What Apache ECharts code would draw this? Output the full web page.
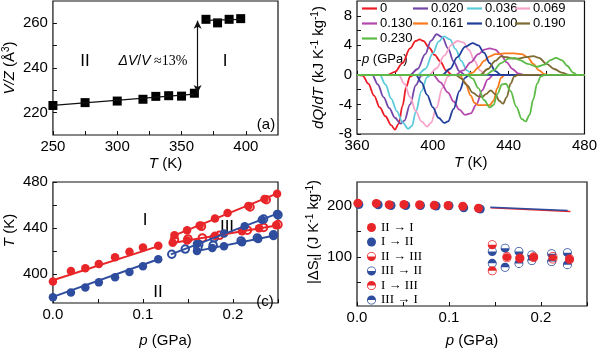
<!DOCTYPE html>
<html><head><meta charset="utf-8">
<script src="https://cdn.jsdelivr.net/npm/echarts@6/dist/echarts.min.js"></script>
<style>html,body{margin:0;padding:0;background:#fff}#c{width:600px;height:351px}</style>
</head><body><div id="c"></div>
<script>
// ---------- Panel (a): V/Z vs T ----------
const aT = [250, 275, 300, 320, 330, 340, 350, 360, 369, 378, 387, 396];
const aV = [223.2, 224.5, 225.2, 226.0, 227.3, 227.6, 227.4, 228.7, 261.8, 260.2, 261.8, 262.1];
const aLowFitT = [250, 360], aLowFitV = [223.3, 228.3];
const aHighFitT = [369, 396], aHighFitV = [261.3, 261.8];
const aArrowT = 362.5, aArrowV = [228.8, 261.2];
const aXLabels = [250, 300, 350, 400], aXTicks = [250, 275, 300, 325, 350, 375, 400];
const aYLabels = [220, 240, 260], aYTicks = [220, 230, 240, 250, 260];

// ---------- Panel (b): dQ/dT curves ----------
const bNames = ['0', '0.020', '0.036', '0.069', '0.130', '0.161', '0.100', '0.190', '0.230'];
const bColors = ['#ec1c24', '#7446a8', '#5ccbdb', '#f6a3c9', '#b347ad', '#fb7b1c', '#213f9a', '#7d6b32', '#5dbb47'];
const bHeat = {
  '0':     [[360,0],[376,0],[380,0.4],[384,1.6],[388,3.6],[391,4.6],[393,4.8],[395,4.6],[398,3.7],[401,2.7],[404,1.8],[407,0.6],[410,0],[480,0]],
  '0.020': [[360,0],[388,0],[392,0.8],[396,2.8],[399,4.6],[402,5.5],[405,5.1],[408,3.6],[411,1.8],[414,0.5],[417,0],[480,0]],
  '0.036': [[360,0],[392,0],[396,0.8],[400,2.9],[403,4.5],[406,5.2],[409,4.8],[412,3.5],[415,1.9],[418,0.6],[421,0],[480,0]],
  '0.069': [[360,0],[398,0],[402,0.9],[406,2.6],[410,4.1],[413,4.6],[416,4.4],[419,3.4],[422,1.9],[425,0.6],[428,0],[480,0]],
  '0.130': [[360,0],[412,0],[416,0.6],[420,1.7],[424,2.8],[427,3.4],[430,3.6],[433,3.4],[436,2.7],[439,1.7],[442,0.8],[445,0.2],[448,0],[480,0]],
  '0.161': [[360,0],[418,0],[421,0.3],[424,1.0],[427,1.9],[430,2.5],[433,2.8],[438,2.9],[443,2.9],[447,2.8],[450,2.4],[453,1.5],[456,0.6],[459,0.1],[461,0],[480,0]],
  '0.100': [[360,0],[405,0],[409,0.8],[413,2.4],[417,3.8],[421,4.3],[424,4.0],[427,3.0],[430,1.6],[433,0.5],[436,0],[480,0]],
  '0.190': [[360,0],[425,0],[429,0.8],[433,1.9],[436,2.5],[439,2.4],[442,2.2],[445,2.2],[449,2.4],[453,2.55],[456,2.3],[460,1.5],[464,0.8],[468,0.3],[472,0],[480,0]],
  '0.230': [[360,0],[428,0],[432,0.6],[436,1.6],[440,2.2],[443,2.3],[446,2.0],[450,1.5],[455,1.1],[459,1.4],[462,2.0],[465,2.3],[468,2.0],[471,1.2],[474,0.3],[476,0],[480,0]]
};
const bCool = {
  '0':     [[360,0],[363,-0.1],[366,-1.2],[369,-2.8],[372,-4.4],[375,-5.6],[378,-6.8],[380,-7.4],[382,-6.6],[384,-4.2],[386,-1.6],[388,-0.2],[390,0],[480,0]],
  '0.020': [[360,0],[368,0],[371,-1.3],[374,-3.0],[377,-4.5],[380,-5.8],[383,-6.6],[385,-6.2],[388,-4.0],[391,-1.4],[394,-0.1],[396,0],[480,0]],
  '0.036': [[360,0],[372,0],[375,-1.3],[378,-3.2],[381,-4.9],[384,-6.4],[387,-7.3],[389,-6.9],[391,-5.0],[394,-2.2],[397,-0.3],[399,0],[480,0]],
  '0.069': [[360,0],[382,0],[385,-1.2],[388,-3.0],[391,-4.9],[394,-6.3],[397,-7.0],[399,-6.5],[402,-4.4],[405,-1.8],[408,-0.2],[410,0],[480,0]],
  '0.130': [[360,0],[400,0],[404,-1.0],[408,-2.4],[411,-3.6],[414,-4.7],[417,-5.4],[420,-5.2],[423,-4.0],[426,-2.1],[429,-0.6],[432,0],[480,0]],
  '0.161': [[360,0],[414,0],[417,-1.0],[420,-2.8],[422,-3.8],[424,-4.1],[430,-4.1],[432,-3.5],[434,-1.8],[436,-0.4],[438,0],[480,0]],
  '0.100': [[360,0],[391,0],[394,-1.0],[397,-2.7],[400,-4.4],[403,-5.8],[406,-6.5],[408,-6.3],[411,-4.6],[414,-2.2],[417,-0.4],[419,0],[480,0]],
  '0.190': [[360,0],[412,0],[415,-0.5],[418,-1.4],[421,-2.4],[424,-2.9],[426,-3.0],[428,-2.6],[430.5,-2.1],[433,-2.6],[435,-3.5],[437,-3.9],[439,-3.0],[441,-1.2],[443,-0.2],[445,0],[480,0]],
  '0.230': [[360,0],[418,0],[421,-0.5],[424,-1.8],[427,-3.4],[430,-4.4],[432,-4.1],[434,-2.6],[436.5,-1.3],[438.5,-1.2],[441,-2.2],[444,-4.3],[447,-6.0],[449,-6.3],[451,-5.4],[453,-3.3],[455,-1.2],[457,-0.2],[459,0],[480,0]]
};
const bXLabels = [360, 400, 440, 480], bXTicks = [360, 380, 400, 420, 440, 460, 480];
const bYLabels = [-8, -4, 0, 4, 8], bYTicks = [-8, -6, -4, -2, 0, 2, 4, 6, 8];

// ---------- Panel (c): T vs p ----------
const cLowP = [0, 0.02, 0.036, 0.051, 0.069, 0.085, 0.1, 0.117];
const cLowRed = [393.7, 402.7, 405.2, 408.8, 414.8, 419.5, 423.2, 424.6];
const cLowBlue = [380.0, 384.1, 388.5, 392.9, 397.3, 401.9, 406.8, 412.9];
const cLowRedFitP = [0, 0.119], cLowRedFitT = [394.8, 424.8];
const cLowBlueFitP = [0, 0.117], cLowBlueFitT = [380.3, 413.0];
const cRedUpFitP = [0.133, 0.25], cRedUpFitT = [433.0, 470.3];
const cRedLowFitP = [0.131, 0.25], cRedLowFitT = [426.8, 442.5];
const cBlueUpFitP = [0.131, 0.25], cBlueUpFitT = [417.2, 452.8];
const cBlueLowFitP = [0.158, 0.245], cBlueLowFitT = [419.8, 433.3];
const cRedUpP = [0.135, 0.149, 0.163, 0.18, 0.194, 0.217, 0.235, 0.249];
const cRedUpT = [433.8, 438.2, 442.3, 448.3, 453.1, 459.2, 465.2, 469.8];
const cRedUpOpenP = [0.165, 0.219, 0.237, 0.251], cRedUpOpenT = [441.5, 458.3, 464.6, 468.7];
const cRedLowP = [0.133, 0.149, 0.18, 0.21, 0.229, 0.248], cRedLowT = [427.2, 429.3, 433.4, 437.2, 439.9, 442.4];
const cRedLowOpenP = [0.135, 0.15, 0.166, 0.185, 0.216, 0.234, 0.25], cRedLowOpenT = [430.0, 430.6, 431.5, 433.7, 438.2, 440.6, 443.1];
const cBlueUpP = [0.16, 0.19, 0.213, 0.232, 0.249], cBlueUpT = [426.5, 435.4, 441.7, 447.2, 452.3];
const cBlueUpOpenP = [0.132, 0.147, 0.162, 0.179, 0.234, 0.25], cBlueUpOpenT = [417.3, 421.8, 425.8, 431.6, 447.8, 451.5];
const cBlueLowP = [0.16, 0.177, 0.19, 0.21, 0.228, 0.245], cBlueLowT = [420.1, 422.8, 424.3, 427.8, 430.5, 433.1];
const cBlueLowOpenP = [0.161, 0.178, 0.209, 0.227, 0.245], cBlueLowOpenT = [423.0, 425.2, 428.9, 431.5, 434.2];
const pLabels = [0, 0.1, 0.2], pTicks = [0, 0.05, 0.1, 0.15, 0.2, 0.25];
const cYLabels = [400, 440, 480], cYTicks = [380, 400, 420, 440, 460, 480];

// ---------- Panel (d): |ΔS| vs p ----------
const dRedP = [0.001, 0.021, 0.035, 0.051, 0.068, 0.084, 0.099, 0.115, 0.132];
const dRedS = [205.5, 205.0, 202.5, 203.0, 202.5, 201.5, 201.0, 199.5, 195.5];
const dBlueP = [0.002, 0.023, 0.037, 0.053, 0.069, 0.086, 0.1, 0.116, 0.134];
const dBlueS = [203.0, 202.5, 201.0, 201.0, 201.0, 200.0, 200.5, 196.5, 194.0];
const dRedLineP = [0.145, 0.232], dRedLineS = [196.4, 189.1];
const dBlueLineP = [0.145, 0.229], dBlueLineS = [197.4, 191.3];
const dRedIIIP = [0.147, 0.163, 0.177, 0.192, 0.213, 0.231];
const dII_III = [124, 101, 98, 100.5, 101, 96.5];
const dI_III = [73, 98.5, 97, 99, 96, 95];
const dBlueIIIP = [0.147, 0.161, 0.176, 0.19, 0.2115, 0.2287];
const dIII_II = [110.7, 117.4, 110.7, 104, 106.5, 108.5];
const dIII_I = [87.6, 80, 87.5, 93, 91, 85];
const dYLabels = [100, 200], dYTicks = [50, 100, 150, 200];

// ---------- build ----------
const FONT = '"Liberation Sans", Arial, Helvetica, sans-serif';
const SERIF = '"Liberation Serif", "Times New Roman", serif';
const RED = '#e8262a', BLUE = '#2f4d9e', INK = '#111';
const pts = (xs, ys) => xs.map((x, i) => [x, ys[i]]);

const RICH = {
  i: {fontStyle: 'italic', fontSize: 15, fontFamily: FONT, color: '#000', lineHeight: 18},
  n: {fontSize: 15, fontFamily: FONT, color: '#000', lineHeight: 18},
  sup: {fontSize: 10, fontFamily: FONT, color: '#000', lineHeight: 10, verticalAlign: 'top'},
  sub: {fontSize: 10, fontFamily: FONT, color: '#000', lineHeight: 10, verticalAlign: 'bottom'}
};

function axis(kind, gi, min, max, labels, ticks, name, gap, fmt, namePad) {
  return {
    type: 'value', gridIndex: gi, min: min, max: max,
    name: name, nameLocation: 'middle', nameGap: gap,
    nameTextStyle: {fontSize: 15, fontFamily: FONT, color: '#000', lineHeight: 18, rich: RICH, padding: namePad || 0},
    axisLine: {show: false}, splitLine: {show: false},
    axisTick: {show: true, inside: true, length: 4, customValues: ticks, lineStyle: {color: INK, width: 1}},
    axisLabel: {customValues: labels, formatter: fmt || (v => String(v)), margin: kind === 'x' ? 4 : 5,
      fontSize: 15, color: '#000', fontFamily: FONT}
  };
}

const gridBase = {show: true, borderColor: INK, borderWidth: 1.2, backgroundColor: 'transparent', containLabel: false};
const grids = [
  Object.assign({left: 47, top: 1, width: 231, height: 134}, gridBase),
  Object.assign({left: 357, top: 1, width: 230, height: 133}, gridBase),
  Object.assign({left: 47, top: 182, width: 231, height: 128}, gridBase),
  Object.assign({left: 357, top: 182, width: 230, height: 133}, gridBase)
];

const pf = v => v.toFixed(1);
const xAxes = [
  axis('x', 0, 250, 425, aXLabels, aXTicks, '{i|T}{n| (K)}', 20),
  axis('x', 1, 360, 480, bXLabels, bXTicks, '{i|T}{n| (K)}', 20),
  axis('x', 2, 0, 0.25, pLabels, pTicks, '{i|p}{n| (GPa)}', 29, pf),
  axis('x', 3, 0, 0.25, pLabels, pTicks, '{i|p}{n| (GPa)}', 26, pf)
];
const yAxes = [
  axis('y', 0, 210, 270, aYLabels, aYTicks, '{i|V/Z}{n| (Å}{sup|3}{n|)}', 29),
  axis('y', 1, -8, 10, bYLabels, bYTicks, '{i|dQ}{n|/}{i|dT}{n| (kJ K}{sup|-1}{n| kg}{sup|-1}{n|)}', 29),
  axis('y', 2, 375, 480, cYLabels, cYTicks, '{i|T}{n| (K)}', 29, null, [0, 0, 0, 24]),
  axis('y', 3, 4, 247, dYLabels, dYTicks, '{n||ΔS}{sub|t}{n|| (J K}{sup|-1}{n| kg}{sup|-1}{n|)}', 29, null, [0, 0, 0, 24])
];

const series = [];
// (a)
series.push({type: 'line', xAxisIndex: 0, yAxisIndex: 0, data: pts(aLowFitT, aLowFitV), showSymbol: false,
  lineStyle: {color: INK, width: 1.2}, silent: true,
  markLine: {silent: true, symbol: ['arrow', 'arrow'], symbolSize: [6, 8], label: {show: false},
    lineStyle: {color: INK, width: 1.2, type: 'solid'},
    data: [[{coord: [aArrowT, aArrowV[0]]}, {coord: [aArrowT, aArrowV[1]]}]]}});
series.push({type: 'line', xAxisIndex: 0, yAxisIndex: 0, data: pts(aHighFitT, aHighFitV), showSymbol: false,
  lineStyle: {color: INK, width: 1.2}, silent: true});
series.push({type: 'scatter', xAxisIndex: 0, yAxisIndex: 0, data: pts(aT, aV), symbol: 'rect', symbolSize: 9,
  itemStyle: {color: '#000', opacity: 1}, silent: true});

// (b)
bNames.forEach((nm, k) => {
  [bCool[nm], bHeat[nm]].forEach(d => {
    series.push({type: 'line', name: nm, xAxisIndex: 1, yAxisIndex: 1, data: d, showSymbol: false,
      smooth: 0.35, smoothMonotone: 'x', color: bColors[k], lineStyle: {color: bColors[k], width: 1.8}, silent: true});
  });
});

// (c)
const cLine = (p, t, col) => ({type: 'line', xAxisIndex: 2, yAxisIndex: 2, data: pts(p, t), showSymbol: false,
  lineStyle: {color: col, width: 2}, silent: true});
const cScat = (p, t, col, open) => ({type: 'scatter', xAxisIndex: 2, yAxisIndex: 2, data: pts(p, t),
  symbol: open ? 'emptyCircle' : 'circle', symbolSize: open ? 7.5 : 8.5,
  itemStyle: open ? {color: col, borderColor: col, borderWidth: 1, opacity: 1} : {color: col, opacity: 1}, silent: true});
series.push(cLine(cLowRedFitP, cLowRedFitT, RED), cLine(cLowBlueFitP, cLowBlueFitT, BLUE));
series.push(cLine(cRedUpFitP, cRedUpFitT, RED), cLine(cRedLowFitP, cRedLowFitT, RED));
series.push(cLine(cBlueUpFitP, cBlueUpFitT, BLUE), cLine(cBlueLowFitP, cBlueLowFitT, BLUE));
series.push(cScat(cLowP, cLowRed, RED), cScat(cLowP, cLowBlue, BLUE));
series.push(cScat(cRedUpOpenP, cRedUpOpenT, RED, true), cScat(cRedLowOpenP, cRedLowOpenT, RED, true));
series.push(cScat(cBlueUpOpenP, cBlueUpOpenT, BLUE, true), cScat(cBlueLowOpenP, cBlueLowOpenT, BLUE, true));
series.push(cScat(cRedUpP, cRedUpT, RED), cScat(cRedLowP, cRedLowT, RED));
series.push(cScat(cBlueUpP, cBlueUpT, BLUE), cScat(cBlueLowP, cBlueLowT, BLUE));

// (d)
const RING = 'M0,10A10,10,0,1,1,20,10A10,10,0,1,1,0,10ZM1.8,10A8.2,8.2,0,1,0,18.2,10A8.2,8.2,0,1,0,1.8,10Z';
const HALF_BOTTOM = 'path://' + RING + 'M1.8,10L18.2,10A8.2,8.2,0,0,1,1.8,10Z';
const HALF_TOP = 'path://' + RING + 'M1.8,10L18.2,10A8.2,8.2,0,0,0,1.8,10Z';
const dLine = (p, s, col) => ({type: 'line', xAxisIndex: 3, yAxisIndex: 3, data: pts(p, s), showSymbol: false,
  lineStyle: {color: col, width: 1.5}, silent: true});
const dScat = (name, p, s, col, sym) => ({type: 'scatter', name: name, xAxisIndex: 3, yAxisIndex: 3, data: pts(p, s),
  symbol: sym, symbolSize: 9, color: col, itemStyle: {color: col, opacity: 1}, silent: true});
series.push(dLine(dRedLineP, dRedLineS, RED), dLine(dBlueLineP, dBlueLineS, BLUE));
series.push(dScat('I → II', dBlueP, dBlueS, BLUE, 'circle'), dScat('II → I', dRedP, dRedS, RED, 'circle'));
series.push(dScat('III → II', dBlueIIIP, dIII_II, BLUE, HALF_BOTTOM), dScat('III → I', dBlueIIIP, dIII_I, BLUE, HALF_TOP));
series.push(dScat('II → III', dRedIIIP, dII_III, RED, HALF_BOTTOM), dScat('I → III', dRedIIIP, dI_III, RED, HALF_TOP));

// legends
const bLegPos = [[362, 10], [413, 10], [467, 10], [515, 10], [362, 25], [413, 25], [467, 25], [515, 25], [362, 40]];
const legends = bNames.map((nm, k) => ({
  data: [nm], left: bLegPos[k][0], top: bLegPos[k][1] - 8, padding: 0, itemGap: 0,
  icon: 'rect', itemWidth: 15, itemHeight: 2.2, selectedMode: false,
  textStyle: {fontSize: 13, fontFamily: FONT, color: '#000', padding: [0, 0, 0, -2]}
}));
legends.push({
  data: ['II → I', 'I → II', 'II → III', 'III → II', 'I → III', 'III → I'],
  orient: 'vertical', left: 367, top: 221, padding: 0, itemGap: 1.5, itemWidth: 9, itemHeight: 9, selectedMode: false,
  textStyle: {fontSize: 13, fontFamily: SERIF, color: '#000', lineHeight: 12}
});

const txt = (x, y, text, size, extra) => ({type: 'text', x: x, y: y, silent: true,
  style: Object.assign({text: text, fill: '#000', font: size + 'px ' + FONT, align: 'center', verticalAlign: 'middle'}, extra || {})});

const graphics = [
  txt(85, 61, 'II', 17),
  txt(225, 61, 'I', 17),
  {type: 'text', x: 153, y: 61, silent: true, style: {
    text: '{i|ΔV}{n|/}{i|V}{s| ≈13%}', align: 'center', verticalAlign: 'middle',
    rich: {i: {fontStyle: 'italic', fontSize: 14, fontFamily: FONT, fill: '#000'},
           n: {fontSize: 14, fontFamily: FONT, fill: '#000'},
           s: {fontSize: 14, fontFamily: SERIF, fill: '#000'}}}},
  txt(266, 125, '(a)', 15),
  {type: 'text', x: 362, y: 59, silent: true, style: {text: '{i|p}{n| (GPa)}', align: 'left', verticalAlign: 'middle',
    rich: {i: {fontStyle: 'italic', fontSize: 13, fontFamily: FONT, fill: '#000'}, n: {fontSize: 13, fontFamily: FONT, fill: '#000'}}}},
  txt(145, 220, 'I', 17),
  txt(158, 292, 'II', 17),
  txt(227, 227, 'III', 17),
  txt(265, 302, '(c)', 15)
];

const chart = echarts.init(document.getElementById('c'), null, {renderer: 'canvas', width: 600, height: 351});
chart.setOption({
  animation: false, backgroundColor: '#fff',
  grid: grids, xAxis: xAxes, yAxis: yAxes, series: series, legend: legends, graphic: graphics
});
</script></body></html>
